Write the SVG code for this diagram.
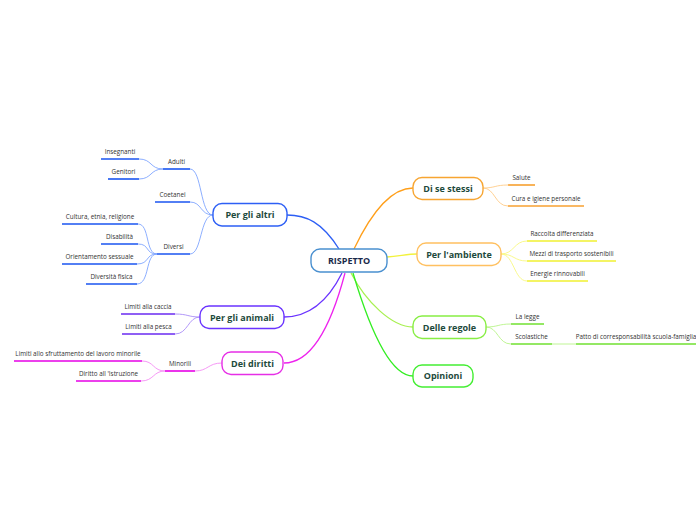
<svg xmlns="http://www.w3.org/2000/svg" width="696" height="520" viewBox="0 0 696 520">
<style>
.n{fill:#fff;stroke-width:1.4}
.t{font-family:"Open Sans","Noto Sans",sans-serif;font-weight:bold;font-size:9px;fill:#1d4a3c;text-anchor:middle}
.s{font-family:"Open Sans","Noto Sans",sans-serif;font-size:6.3px;fill:#333;text-anchor:middle}
.c{fill:none;stroke-width:1.3}
.cc{fill:none;stroke-width:0.9}
.u{stroke-width:1.6;fill:none}
</style>
<rect width="696" height="520" fill="#fff"/>
<g id="connectors">
<path class="c" stroke="#2d5ff5" d="M339,249 C322,222 306,215 287,215"/>
<path class="c" stroke="#6a33ff" d="M342,273 C326,305 306,317 284,317"/>
<path class="c" stroke="#ee22ee" d="M345,273 C330,330 310,363 284,363"/>
<path class="c" stroke="#ff9f1a" d="M354,249 C375,205 395,188 413,188"/>
<path class="c" stroke="#f2f23c" d="M387,257 C400,256 408,254 417,254"/>
<path class="c" stroke="#a8f050" d="M351,273 C366,302 392,327 413,327"/>
<path class="c" stroke="#33ee22" d="M353,273 C370,330 390,376 413,376"/>
<g stroke="#7fa5ff">
<path class="cc" d="M213,215 C200,215 202,169 190,169"/>
<path class="cc" d="M213,215 C200,215 202,202 190,202"/>
<path class="cc" d="M213,215 C200,215 202,254 190,254"/>
<path class="cc" d="M163,169 C150,169 152,159 139,159"/>
<path class="cc" d="M163,169 C150,169 152,179 139,179"/>
<path class="cc" d="M157,254 C145,254 150,224 138,224"/>
<path class="cc" d="M157,254 C145,254 150,244 138,244"/>
<path class="cc" d="M157,254 C145,254 150,264 137,264"/>
<path class="cc" d="M157,254 C145,254 150,284 137,284"/>
</g>
<g stroke="#a98cf7">
<path class="cc" d="M200,317 C188,317 188,314 175,314"/>
<path class="cc" d="M200,317 C188,317 188,334 175,334"/>
</g>
<g stroke="#f48cf4">
<path class="cc" d="M222,363 C208,363 208,371 195,371"/>
<path class="cc" d="M165,371 C153,371 154,361 142,361"/>
<path class="cc" d="M165,371 C153,371 154,381 141,381"/>
</g>
<g stroke="#ffcc88">
<path class="cc" d="M483,188 C495,188 495,185 508,185"/>
<path class="cc" d="M483,188 C495,188 495,206 508,206"/>
</g>
<g stroke="#f8f880">
<path class="cc" d="M501,254 C514,254 514,241 527,241"/>
<path class="cc" d="M501,254 C514,254 514,261 527,261"/>
<path class="cc" d="M501,254 C514,254 514,281 527,281"/>
</g>
<g stroke="#b8f488">
<path class="cc" d="M486,327 C498,327 498,324 511,324"/>
<path class="cc" d="M486,327 C498,327 498,344 511,344"/>
<path class="cc" d="M552,344 L576,344"/>
</g>
</g>
<g id="rispetto">
<rect class="n" x="311" y="249" width="76" height="23" rx="9" stroke="#4a90d0"/>
<text class="t" x="349" y="264" style="fill:#1a2a4a">RISPETTO</text>
</g>
<g id="per-gli-altri">
<rect class="n" x="213" y="203.5" width="74" height="22.5" rx="9" stroke="#2d5ff5"/>
<text class="t" x="250" y="218">Per gli altri</text>
</g>
<g id="per-gli-animali">
<rect class="n" x="200" y="306" width="84" height="22.5" rx="9" stroke="#6a33ff"/>
<text class="t" x="242" y="320.5">Per gli animali</text>
</g>
<g id="dei-diritti">
<rect class="n" x="222" y="352" width="61" height="22.5" rx="9" stroke="#e62ee6"/>
<text class="t" x="252.5" y="366.5">Dei diritti</text>
</g>
<g id="di-se-stessi">
<rect class="n" x="413" y="177.5" width="70" height="22" rx="9" stroke="#f7a531"/>
<text class="t" x="448" y="191.5">Di se stessi</text>
</g>
<g id="per-l-ambiente">
<rect class="n" x="417" y="243" width="84" height="22.5" rx="9" stroke="#ffc060"/>
<text class="t" x="459" y="257.5">Per l'ambiente</text>
</g>
<g id="delle-regole">
<rect class="n" x="413" y="316" width="73" height="22.5" rx="9" stroke="#88ee44"/>
<text class="t" x="449.5" y="330.5">Delle regole</text>
</g>
<g id="opinioni">
<rect class="n" x="413" y="365" width="60" height="22" rx="9" stroke="#44ee33"/>
<text class="t" x="443" y="379">Opinioni</text>
</g>
<g id="insegnanti"><path class="u" stroke="#1a55f0" d="M101,159H139"/><text class="s" x="120" y="154">Insegnanti</text></g>
<g id="adulti"><path class="u" stroke="#1a55f0" d="M163,169H190"/><text class="s" x="176.5" y="164">Adulti</text></g>
<g id="genitori"><path class="u" stroke="#1a55f0" d="M108,179H139"/><text class="s" x="123.5" y="174">Genitori</text></g>
<g id="coetanei"><path class="u" stroke="#1a55f0" d="M155,202H190"/><text class="s" x="172.5" y="197">Coetanei</text></g>
<g id="cultura"><path class="u" stroke="#1a55f0" d="M62,224H138"/><text class="s" x="100" y="219">Cultura, etnia, religione</text></g>
<g id="disabilita"><path class="u" stroke="#1a55f0" d="M101,244H138"/><text class="s" x="119.5" y="239">Disabilità</text></g>
<g id="diversi"><path class="u" stroke="#1a55f0" d="M157,254H190"/><text class="s" x="173.5" y="249">Diversi</text></g>
<g id="orientamento"><path class="u" stroke="#1a55f0" d="M62,264H137"/><text class="s" x="99.5" y="259">Orientamento sessuale</text></g>
<g id="diversita-fisica"><path class="u" stroke="#1a55f0" d="M86,284H137"/><text class="s" x="111.5" y="279">Diversità fisica</text></g>
<g id="caccia"><path class="u" stroke="#6a2af0" d="M121,314H175"/><text class="s" x="148" y="309">Limiti alla caccia</text></g>
<g id="pesca"><path class="u" stroke="#6a2af0" d="M122,334H175"/><text class="s" x="148.5" y="329">Limiti alla pesca</text></g>
<g id="sfruttamento"><path class="u" stroke="#e600e6" d="M14,361H142"/><text class="s" x="78" y="356">Limiti allo sfruttamento del lavoro minorile</text></g>
<g id="minorili"><path class="u" stroke="#e600e6" d="M165,371H195"/><text class="s" x="180" y="366">Minorili</text></g>
<g id="istruzione"><path class="u" stroke="#e600e6" d="M76,381H141"/><text class="s" x="108.5" y="376">Diritto all 'Istruzione</text></g>
<g id="salute"><path class="u" stroke="#f7a030" d="M508,185H535"/><text class="s" x="521.5" y="180">Salute</text></g>
<g id="cura"><path class="u" stroke="#f7a030" d="M508,206H584"/><text class="s" x="546" y="201">Cura e igiene personale</text></g>
<g id="raccolta"><path class="u" stroke="#f0f030" d="M527,241H597"/><text class="s" x="562" y="236">Raccolta differenziata</text></g>
<g id="mezzi"><path class="u" stroke="#f0f030" d="M527,261H616"/><text class="s" x="571.5" y="256">Mezzi di trasporto sostenibili</text></g>
<g id="energie"><path class="u" stroke="#f0f030" d="M527,281H588"/><text class="s" x="557.5" y="276">Energie rinnovabili</text></g>
<g id="legge"><path class="u" stroke="#70e030" d="M511,324H544"/><text class="s" x="527.5" y="319">La legge</text></g>
<g id="scolastiche"><path class="u" stroke="#70e030" d="M511,344H552"/><text class="s" x="531.5" y="339">Scolastiche</text></g>
<g id="patto"><path class="u" stroke="#70e030" d="M576,344H696"/><text class="s" x="636" y="339">Patto di corresponsabilità scuola-famiglia</text></g>
</svg>
